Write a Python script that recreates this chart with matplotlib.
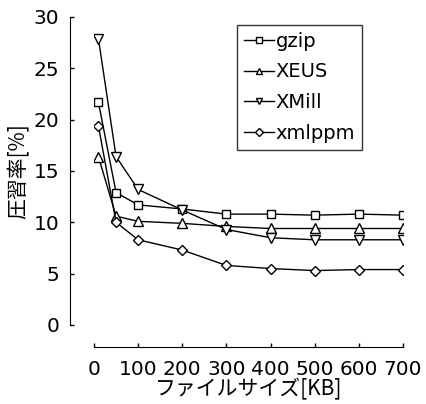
import matplotlib
matplotlib.use("Agg")
import matplotlib.pyplot as plt

plt.rcParams['font.family'] = ['DejaVu Sans', 'Noto Sans CJK JP']

sizes = [10, 50, 100, 200, 300, 400, 500, 600, 700]
gzip = [21.7, 12.9, 11.7, 11.3, 10.8, 10.8, 10.7, 10.8, 10.7]
xeus = [16.4, 10.6, 10.1, 9.9, 9.6, 9.4, 9.4, 9.4, 9.4]
xmill = [27.9, 16.4, 13.2, 11.2, 9.3, 8.5, 8.3, 8.3, 8.3]
xmlppm = [19.4, 10.0, 8.3, 7.3, 5.8, 5.5, 5.3, 5.4, 5.4]
series_names = ['gzip', 'XEUS', 'XMill', 'xmlppm']
markers = ['s', '^', 'v', 'D']
msizes = [6, 6.5, 6.5, 5.5]
xticks = [0, 100, 200, 300, 400, 500, 600, 700]
yticks = [0, 5, 10, 15, 20, 25, 30]

fig = plt.figure(figsize=(4.26, 4.04), dpi=100)
ax = fig.add_axes([94/426, 1-325/404, (403-94)/426, (325-17)/404])

for vals, name, m, ms in zip([gzip, xeus, xmill, xmlppm], series_names, markers, msizes):
    ax.plot(sizes, vals, color='black', lw=1, marker=m, ms=ms,
            mfc='white', mec='black', mew=1, label=name)

ax.set_xlim(0, 700)
ax.set_ylim(0, 30)
ax.set_xticks(xticks)
ax.set_yticks(yticks)
ax.spines['top'].set_visible(False)
ax.spines['right'].set_visible(False)
ax.spines['left'].set_position(('outward', 17))
ax.spines['bottom'].set_position(('outward', 16))
ax.tick_params(direction='in', length=3, width=1, labelsize=14.5)
ax.tick_params(axis='y', pad=8)
ax.tick_params(axis='x', pad=9)
ax.set_xlabel('ファイルサイズ[KB]', fontsize=15, labelpad=0,
              family=['Noto Sans CJK JP', 'DejaVu Sans'])
ax.set_ylabel('圧習率[%]', fontsize=15, labelpad=3,
              family=['Noto Sans CJK JP', 'DejaVu Sans'])

leg = ax.legend(loc='upper left', bbox_to_anchor=(237/426, 1-25/404),
                bbox_transform=fig.transFigure, fontsize=14, frameon=True,
                fancybox=False, edgecolor='black', handlelength=1.55,
                handletextpad=0.1, borderpad=0.35, labelspacing=0.6,
                borderaxespad=0, markerscale=0.75)
leg.get_frame().set_linewidth(1)

fig.savefig('out.png', dpi=100)
